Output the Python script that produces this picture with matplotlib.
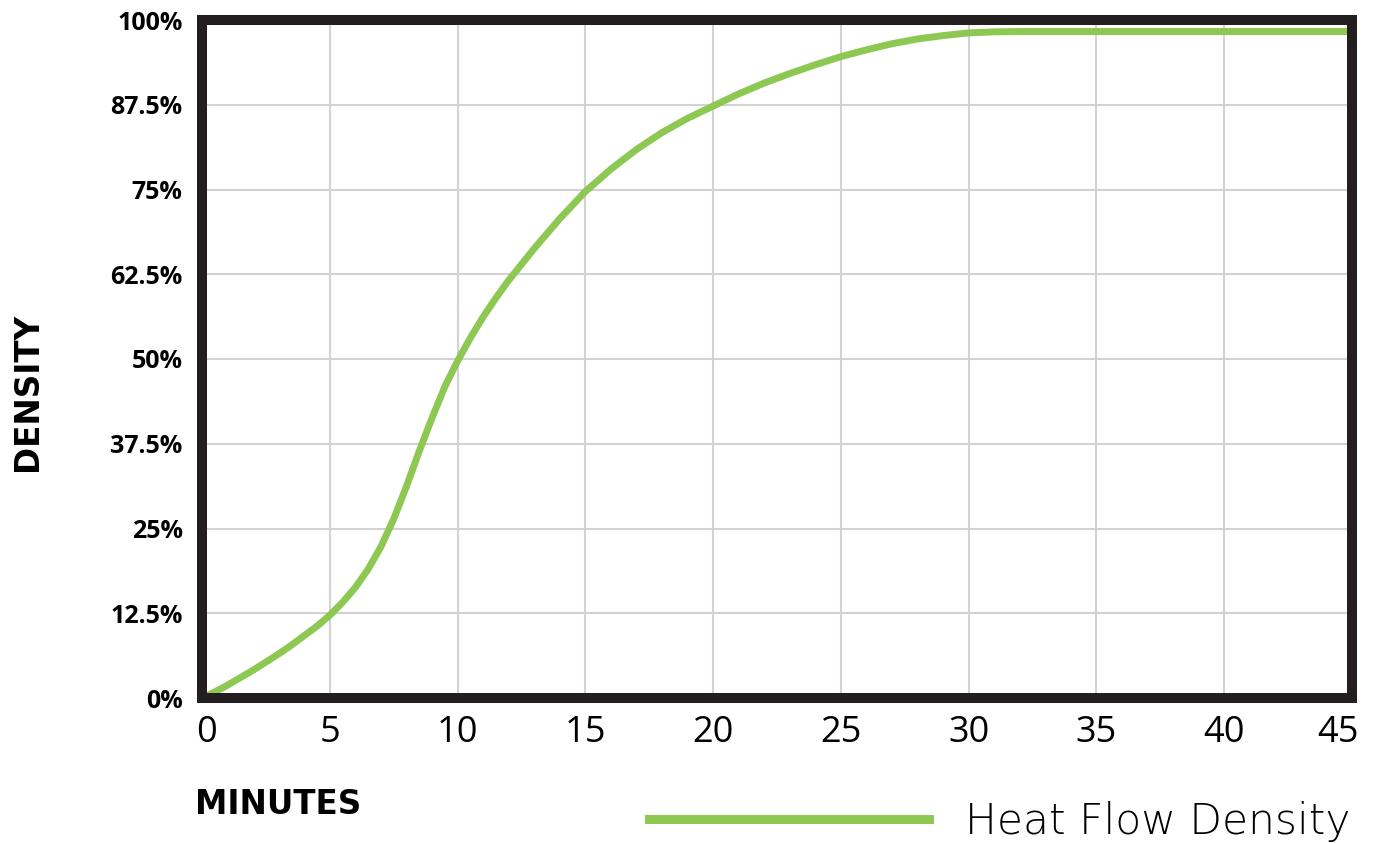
import matplotlib
matplotlib.use("Agg")
import matplotlib.pyplot as plt
from matplotlib.lines import Line2D
from matplotlib.transforms import ScaledTranslation

plt.rcParams['font.family'] = ['Open Sans', 'DejaVu Sans']

# curve (minutes -> % density)
minutes = [0, 0.5, 1, 1.5, 2, 2.5, 3, 3.5, 4, 4.5, 5, 5.5, 6, 6.5, 7, 7.5, 8, 8.5,
           9, 9.5, 10, 10.5, 11, 11.5, 12, 13, 14, 15, 16, 17, 18, 19, 20, 21, 22,
           23, 24, 25, 26, 27, 28, 29, 30, 31, 32, 35, 40, 45]
density = [0, 0.9, 1.9, 3.0, 4.1, 5.3, 6.5, 7.8, 9.2, 10.6, 12.2, 14.1, 16.3,
           19.0, 22.3, 26.4, 31.2, 36.4, 41.3, 45.9, 49.7, 53.1, 56.2, 59.0, 61.6,
           66.3, 70.7, 74.7, 78.0, 80.9, 83.4, 85.5, 87.3, 89.1, 90.7, 92.1, 93.4,
           94.6, 95.6, 96.5, 97.2, 97.7, 98.1, 98.25, 98.3, 98.3, 98.3, 98.3]

x_ticks = [0, 5, 10, 15, 20, 25, 30, 35, 40, 45]
y_ticks = [0, 12.5, 25, 37.5, 50, 62.5, 75, 87.5, 100]
y_labels = ['0%', '12.5%', '25%', '37.5%', '50%', '62.5%', '75%', '87.5%', '100%']

green = '#8dc853'
frame = '#231f20'

fig = plt.figure(figsize=(13.79, 8.43), dpi=100)
ax = fig.add_axes([202/1379, 1-698/843, 1150/1379, 678/843])

ax.plot(minutes, density, color=green, lw=5, solid_capstyle='butt',
        solid_joinstyle='round')

ax.set_xlim(0, 45)
ax.set_ylim(0, 100)
ax.set_xticks(x_ticks)
ax.set_yticks(y_ticks)
ax.set_yticklabels(y_labels)
ax.grid(True, color='#d2d2d2', lw=1.5)
ax.set_axisbelow(True)

ax.tick_params(axis='x', length=0, pad=12, labelsize=26, labelcolor='black')
ax.tick_params(axis='y', length=0, pad=14, labelsize=18, labelcolor='black')
for lab in ax.get_yticklabels():
    lab.set_fontweight('bold')

# end labels sit a little inside the frame in the original
xlabs = ax.get_xticklabels()
xlabs[0].set_transform(xlabs[0].get_transform() + ScaledTranslation(5/100, 0, fig.dpi_scale_trans))
xlabs[-1].set_transform(xlabs[-1].get_transform() + ScaledTranslation(-14/100, 0, fig.dpi_scale_trans))

for s in ax.spines.values():
    s.set_color(frame)
    s.set_linewidth(7.2)

fig.text(27/1379, 1-392/843, 'DENSITY', rotation=90, ha='center', va='center',
         fontsize=23.5, fontweight='bold', family='DejaVu Sans')
fig.text(195/1379, 1-805/843, 'MINUTES', ha='left', va='center',
         fontsize=23.5, fontweight='bold', family='DejaVu Sans')

handle = Line2D([], [], color=green, lw=6.5)
fig.legend([handle], ['Heat Flow Density'], loc='center left',
           bbox_to_anchor=(649/1379, 1-821/843), frameon=False,
           handlelength=6.6, handletextpad=0.85,
           borderpad=0, borderaxespad=0,
           prop={'size': 30.5, 'weight': 'light', 'family': 'DejaVu Sans'})

fig.savefig('out.png', dpi=100)
